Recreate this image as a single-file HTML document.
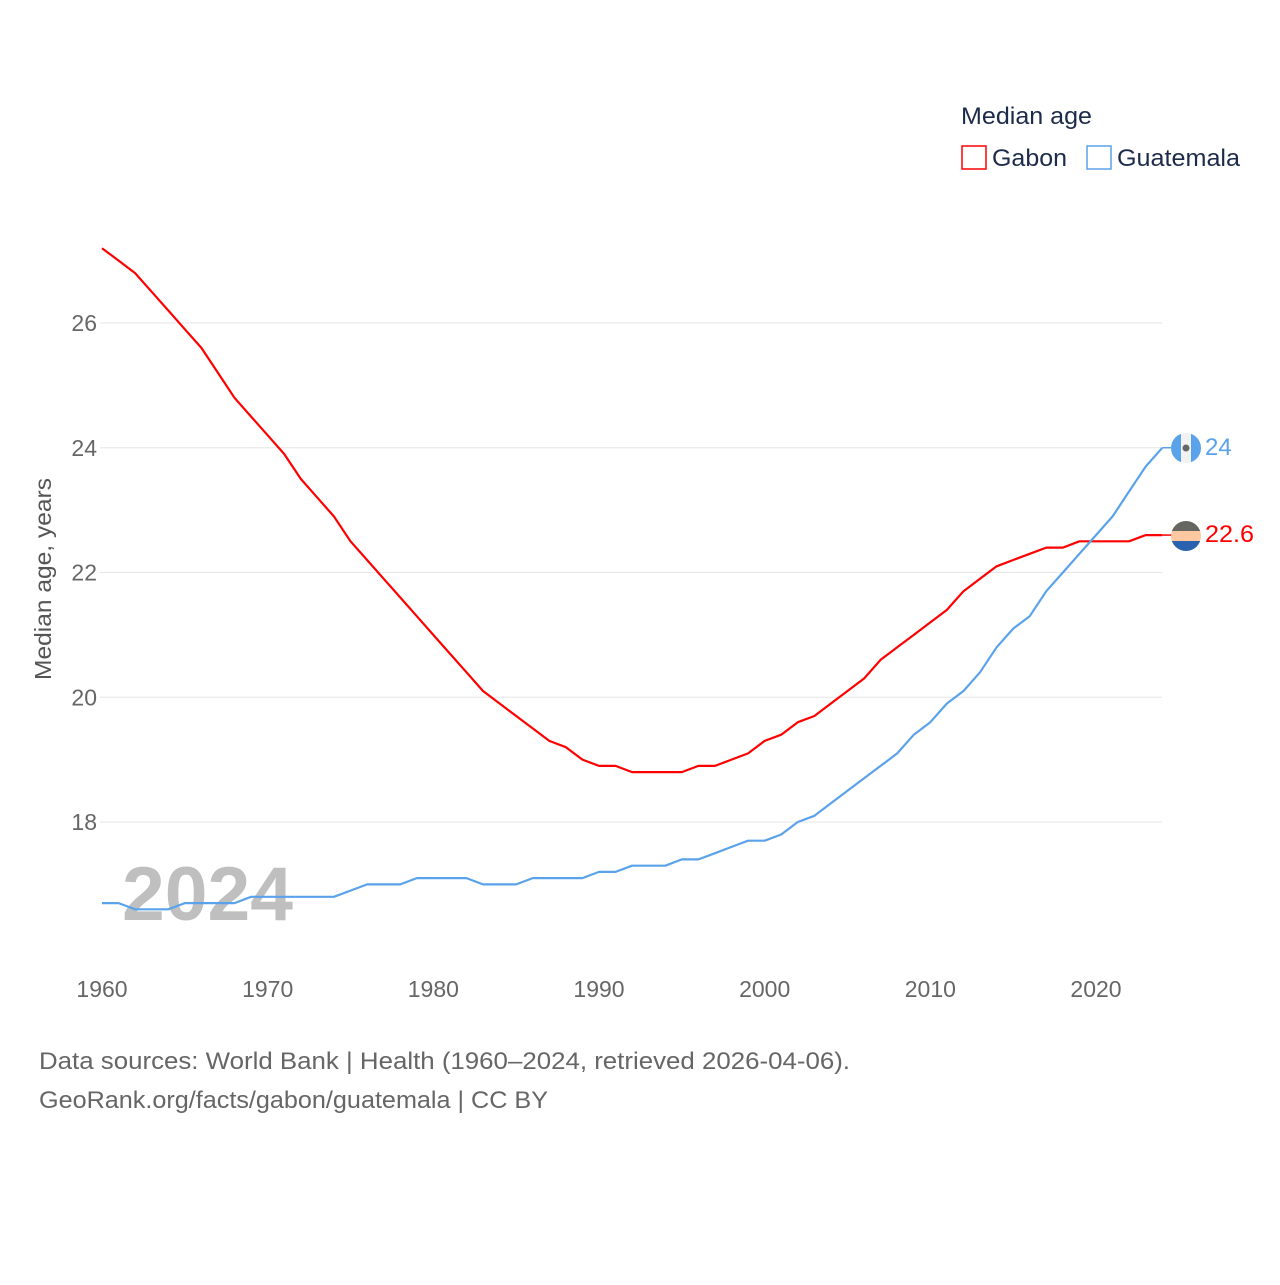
<!DOCTYPE html>
<html><head><meta charset="utf-8">
<style>
html,body{margin:0;padding:0;background:#fff;}
body{width:1280px;height:1280px;overflow:hidden;font-family:"Liberation Sans",sans-serif;}
svg text{font-family:"Liberation Sans",sans-serif;}
</style></head>
<body>
<svg id="chart" width="1280" height="1280" viewBox="0 0 1280 1280" xmlns="http://www.w3.org/2000/svg">
  <g id="grid"></g>
  <text x="122" y="920" font-size="76" font-weight="bold" fill="#b5b5b5" opacity="0.85" textLength="171" lengthAdjust="spacingAndGlyphs">2024</text>
  <g id="yticks"></g>
  <g id="xticks"></g>
  <text transform="translate(51,579) rotate(-90)" text-anchor="middle" font-size="23" fill="#555" textLength="202" lengthAdjust="spacingAndGlyphs">Median age, years</text>
  <g id="series"></g>
  <g>
    <text x="961" y="124" font-size="24" fill="#1d2b4a" textLength="131" lengthAdjust="spacingAndGlyphs">Median age</text>
    <g>
      <rect x="962" y="146" width="24" height="23" fill="none" stroke="#ff0000" stroke-width="1.5"/>
      <text x="992" y="166" font-size="24" fill="#1d2b4a" textLength="75" lengthAdjust="spacingAndGlyphs">Gabon</text>
    </g>
    <g>
      <rect x="1087" y="146" width="24" height="23" fill="none" stroke="#5aa2ea" stroke-width="1.5"/>
      <text x="1117" y="166" font-size="24" fill="#1d2b4a" textLength="123" lengthAdjust="spacingAndGlyphs">Guatemala</text>
    </g>
  </g>
  <g>
    <clipPath id="c1"><circle cx="1186" cy="448" r="15"/></clipPath>
    <g clip-path="url(#c1)">
      <rect x="1171" y="433" width="30" height="30" fill="#f2f2f2"/>
      <rect x="1171" y="433" width="10" height="30" fill="#5aa2ea"/>
      <rect x="1191" y="433" width="10" height="30" fill="#5aa2ea"/>
      <circle cx="1186" cy="448" r="3.5" fill="#666"/>
    </g>
  </g>
  <g>
    <clipPath id="c2"><circle cx="1186" cy="536" r="15"/></clipPath>
    <g clip-path="url(#c2)">
      <rect x="1171" y="521" width="30" height="10" fill="#666660"/>
      <rect x="1171" y="531" width="30" height="10" fill="#ffc8a0"/>
      <rect x="1171" y="541" width="30" height="10" fill="#2a62b0"/>
    </g>
  </g>
  <text x="1205" y="455" font-size="24" fill="#5aa2ea">24</text>
  <text x="1205" y="542" font-size="24" fill="#ff0000" textLength="49" lengthAdjust="spacingAndGlyphs">22.6</text>
  <text x="39" y="1069" font-size="24" fill="#666" textLength="811" lengthAdjust="spacingAndGlyphs">Data sources: World Bank | Health (1960–2024, retrieved 2026-04-06).</text>
  <text x="39" y="1108" font-size="24" fill="#666" textLength="509" lengthAdjust="spacingAndGlyphs">GeoRank.org/facts/gabon/guatemala | CC BY</text>
</svg>
<script>
const years = [];
for (let y = 1960; y <= 2024; y++) years.push(y);
const gabon = [27.2,27.0,26.8,26.5,26.2,25.9,25.6,25.2,24.8,24.5,24.2,23.9,23.5,23.2,22.9,22.5,22.2,21.9,21.6,21.3,21.0,20.7,20.4,20.1,19.9,19.7,19.5,19.3,19.2,19.0,18.9,18.9,18.8,18.8,18.8,18.8,18.9,18.9,19.0,19.1,19.3,19.4,19.6,19.7,19.9,20.1,20.3,20.6,20.8,21.0,21.2,21.4,21.7,21.9,22.1,22.2,22.3,22.4,22.4,22.5,22.5,22.5,22.5,22.6,22.6];
const guatemala = [16.7,16.7,16.6,16.6,16.6,16.7,16.7,16.7,16.7,16.8,16.8,16.8,16.8,16.8,16.8,16.9,17.0,17.0,17.0,17.1,17.1,17.1,17.1,17.0,17.0,17.0,17.1,17.1,17.1,17.1,17.2,17.2,17.3,17.3,17.3,17.4,17.4,17.5,17.6,17.7,17.7,17.8,18.0,18.1,18.3,18.5,18.7,18.9,19.1,19.4,19.6,19.9,20.1,20.4,20.8,21.1,21.3,21.7,22.0,22.3,22.6,22.9,23.3,23.7,24.0];
const yTicks = [18,20,22,24,26];
const xTicks = [1960,1970,1980,1990,2000,2010,2020];

const NS = "http://www.w3.org/2000/svg";
const xs = v => 102 + (v - 1960) * (1096 - 102) / 60;
const ys = v => 822 - (v - 18) * (822 - 323) / 8;

const grid = document.getElementById('grid');
const yt = document.getElementById('yticks');
yTicks.forEach(t => {
  const l = document.createElementNS(NS, 'line');
  
  
  l.setAttribute('x1', 100); l.setAttribute('x2', 1162);
  l.setAttribute('y1', ys(t)); l.setAttribute('y2', ys(t));
  l.setAttribute('stroke', '#e6e6e6'); l.setAttribute('stroke-width', 1);
  grid.appendChild(l);
  const tx = document.createElementNS(NS, 'text');
  
  
  tx.setAttribute('x', 97); tx.setAttribute('y', ys(t) + 8);
  tx.setAttribute('text-anchor', 'end'); tx.setAttribute('font-size', 23); tx.setAttribute('fill', '#666');
  tx.textContent = t;
  yt.appendChild(tx);
});
const xt = document.getElementById('xticks');
xTicks.forEach(t => {
  const tx = document.createElementNS(NS, 'text');
  
  
  tx.setAttribute('x', xs(t)); tx.setAttribute('y', 997);
  tx.setAttribute('text-anchor', 'middle'); tx.setAttribute('font-size', 23); tx.setAttribute('fill', '#666');
  tx.textContent = t;
  xt.appendChild(tx);
});
const ser = document.getElementById('series');
function drawLine(vals, color, name) {
  const p = document.createElementNS(NS, 'path');
  
  
  p.setAttribute('d', vals.map((v, i) => (i ? 'L' : 'M') + xs(years[i]).toFixed(1) + ',' + ys(v).toFixed(1)).join(''));
  p.setAttribute('fill', 'none'); p.setAttribute('stroke', color); p.setAttribute('stroke-width', 2.2);
  p.setAttribute('stroke-linejoin', 'round');
  ser.appendChild(p);
  const last = vals[vals.length - 1];
  const c = document.createElementNS(NS, 'line');
  
  
  c.setAttribute('x1', xs(2024)); c.setAttribute('x2', 1172);
  c.setAttribute('y1', ys(last)); c.setAttribute('y2', ys(last));
  c.setAttribute('stroke', color); c.setAttribute('stroke-width', 1.5);
  ser.appendChild(c);
}
drawLine(gabon, '#ff0000', 'gabon-line');
drawLine(guatemala, '#5aa2ea', 'guatemala-line');
</script>
</body></html>
